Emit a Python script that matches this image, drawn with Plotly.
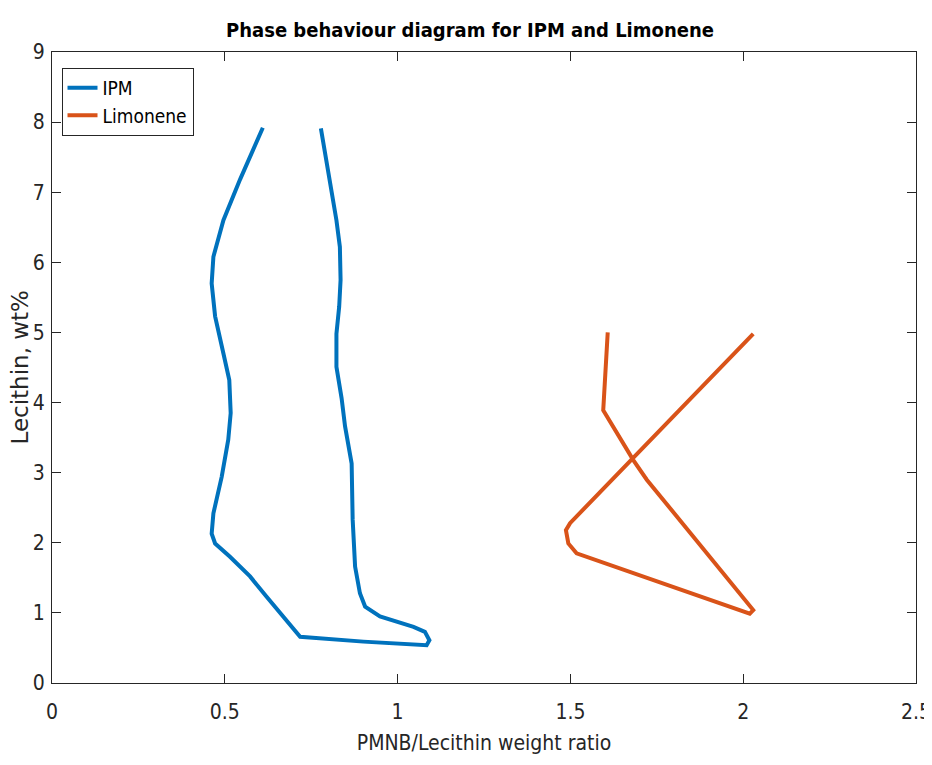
import plotly.graph_objects as go

# IPM boundary (PMNB/Lecithin ratio, Lecithin wt%)
ipm_x = [0.610, 0.544, 0.496, 0.467, 0.462, 0.472, 0.496, 0.513, 0.517, 0.510, 0.491, 0.467,
         0.462, 0.472, 0.515, 0.573, 0.621, 0.718, 0.901, 1.084, 1.092, 1.079, 1.046, 0.949,
         0.906, 0.891, 0.877, 0.870, 0.867, 0.848, 0.838, 0.823, 0.823, 0.831, 0.835, 0.833,
         0.823, 0.804, 0.778]
ipm_y = [7.92, 7.18, 6.60, 6.08, 5.70, 5.23, 4.70, 4.32, 3.85, 3.47, 2.94, 2.42,
         2.13, 1.99, 1.80, 1.52, 1.23, 0.66, 0.59, 0.54, 0.61, 0.73, 0.80, 0.95,
         1.09, 1.28, 1.66, 2.33, 3.13, 3.66, 4.06, 4.51, 4.98, 5.37, 5.75, 6.22,
         6.60, 7.18, 7.91]

# Limonene boundary
lim_x = [1.608, 1.595, 1.682, 1.721, 2.029, 2.019, 1.518, 1.494, 1.487, 1.499, 2.029]
lim_y = [5.00, 3.89, 3.18, 2.90, 1.04, 0.99, 1.85, 1.99, 2.18, 2.28, 4.98]

x_ticks = [0, 0.5, 1, 1.5, 2, 2.5]
x_tick_labels = ["0", "0.5", "1", "1.5", "2", "2.5"]
y_ticks = list(range(0, 10))

FONT = "DejaVu Sans Condensed, Liberation Sans Narrow, Liberation Sans, Arial, sans-serif"
YFONT = "DejaVu Sans, Liberation Sans, Arial, sans-serif"
AXC = "#262626"

fig = go.Figure()
fig.add_trace(go.Scatter(x=ipm_x, y=ipm_y, mode="lines", name="IPM",
                         line=dict(color="#0072BD", width=4)))
fig.add_trace(go.Scatter(x=lim_x, y=lim_y, mode="lines", name="Limonene",
                         line=dict(color="#D95319", width=4)))

axis_common = dict(showgrid=False, zeroline=False, showline=True, linecolor=AXC,
                   linewidth=1, mirror="ticks", ticks="inside", ticklen=9,
                   tickcolor=AXC, automargin=False,
                   tickfont=dict(family=FONT, size=21, color=AXC))

fig.update_layout(
    width=924, height=749,
    margin=dict(l=44, r=16, t=44, b=74),
    paper_bgcolor="white", plot_bgcolor="white",
    title=dict(text="<b>Phase behaviour diagram for IPM and Limonene</b>",
               x=0.5, xanchor="center", y=0.97, yanchor="middle",
               font=dict(family=FONT, size=20, color="black")),
    xaxis=dict(range=[0, 2.5], tickvals=x_ticks, ticktext=x_tick_labels,
               ticklabelstandoff=10,
               title=dict(text="PMNB/Lecithin weight ratio", standoff=12,
                          font=dict(family=FONT, size=21, color=AXC)),
               **axis_common),
    yaxis=dict(range=[0, 9], tickvals=y_ticks, ticklabelstandoff=2,
               **axis_common),
    legend=dict(x=0.011, y=0.975, xanchor="left", yanchor="top",
                bgcolor="white", bordercolor=AXC, borderwidth=1,
                font=dict(family=FONT, size=19, color="black"),
                itemwidth=30, tracegroupgap=0),
    showlegend=True,
    annotations=[dict(text="Lecithin, wt%", xref="paper", yref="paper",
                      x=0, y=0.5, xanchor="center", yanchor="middle",
                      xshift=-33, textangle=-90, showarrow=False,
                      font=dict(family=YFONT, size=23, color=AXC))],
)

fig.write_html("out.html")
